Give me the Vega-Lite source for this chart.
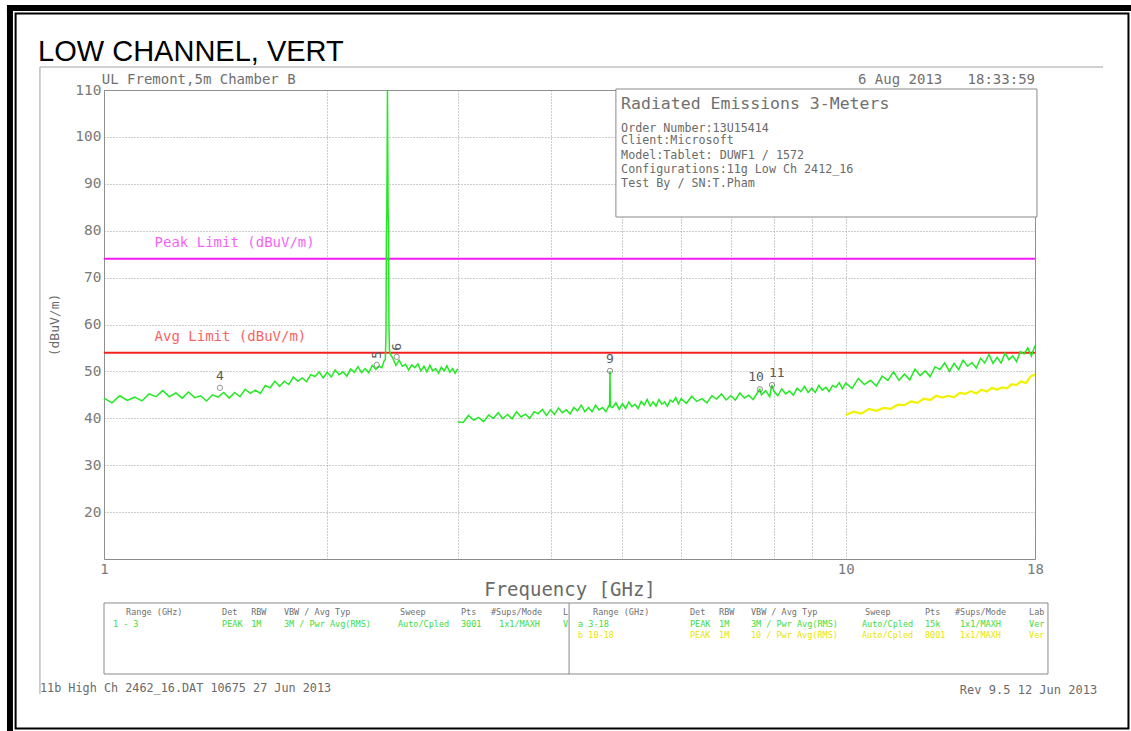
{
  "$schema": "https://vega.github.io/schema/vega-lite/v6.json",
  "width": 931,
  "height": 469,
  "autosize": {"type": "none"},
  "padding": {"left": 104, "top": 90, "right": 96, "bottom": 172},
  "background": "white",
  "config": {
    "view": {"stroke": "#8a8a8a", "strokeWidth": 1},
    "axis": {
      "labelFont": "DejaVu Sans Mono",
      "labelColor": "#7a7a7a",
      "titleFont": "DejaVu Sans Mono",
      "titleColor": "#6a6a6a",
      "titleFontWeight": "normal",
      "grid": true,
      "gridColor": "#9a9a9a",
      "gridDash": [1, 2],
      "gridWidth": 1,
      "ticks": false,
      "domain": false
    }
  },
  "datasets": {
    "green": [
      {"s": 1, "f": 1.000, "v": 44.3}, {"s": 1, "f": 1.025, "v": 43.3}, {"s": 1, "f": 1.050, "v": 44.8}, {"s": 1, "f": 1.075, "v": 43.8},
      {"s": 1, "f": 1.100, "v": 44.5}, {"s": 1, "f": 1.125, "v": 43.7}, {"s": 1, "f": 1.150, "v": 45.2}, {"s": 1, "f": 1.175, "v": 44.6},
      {"s": 1, "f": 1.200, "v": 45.9}, {"s": 1, "f": 1.225, "v": 44.6}, {"s": 1, "f": 1.250, "v": 45.4}, {"s": 1, "f": 1.275, "v": 44.3},
      {"s": 1, "f": 1.300, "v": 45.6}, {"s": 1, "f": 1.325, "v": 44.4}, {"s": 1, "f": 1.350, "v": 44.8}, {"s": 1, "f": 1.375, "v": 43.7},
      {"s": 1, "f": 1.400, "v": 45.0}, {"s": 1, "f": 1.425, "v": 44.5}, {"s": 1, "f": 1.450, "v": 45.5}, {"s": 1, "f": 1.475, "v": 44.3},
      {"s": 1, "f": 1.500, "v": 45.5}, {"s": 1, "f": 1.525, "v": 44.6}, {"s": 1, "f": 1.550, "v": 46.2}, {"s": 1, "f": 1.575, "v": 45.3},
      {"s": 1, "f": 1.600, "v": 46.0}, {"s": 1, "f": 1.625, "v": 45.3}, {"s": 1, "f": 1.650, "v": 47.0}, {"s": 1, "f": 1.675, "v": 46.5},
      {"s": 1, "f": 1.700, "v": 47.9}, {"s": 1, "f": 1.725, "v": 46.8}, {"s": 1, "f": 1.750, "v": 47.9}, {"s": 1, "f": 1.775, "v": 47.2},
      {"s": 1, "f": 1.800, "v": 48.8}, {"s": 1, "f": 1.825, "v": 47.9}, {"s": 1, "f": 1.850, "v": 48.6}, {"s": 1, "f": 1.875, "v": 47.8},
      {"s": 1, "f": 1.900, "v": 49.3}, {"s": 1, "f": 1.925, "v": 48.9}, {"s": 1, "f": 1.950, "v": 49.9}, {"s": 1, "f": 1.975, "v": 48.6},
      {"s": 1, "f": 2.000, "v": 49.8}, {"s": 1, "f": 2.025, "v": 48.8}, {"s": 1, "f": 2.050, "v": 50.3}, {"s": 1, "f": 2.075, "v": 49.3},
      {"s": 1, "f": 2.100, "v": 49.9}, {"s": 1, "f": 2.125, "v": 49.0}, {"s": 1, "f": 2.150, "v": 50.5}, {"s": 1, "f": 2.175, "v": 49.8},
      {"s": 1, "f": 2.200, "v": 51.0}, {"s": 1, "f": 2.225, "v": 49.7}, {"s": 1, "f": 2.250, "v": 50.6}, {"s": 1, "f": 2.275, "v": 49.7},
      {"s": 1, "f": 2.300, "v": 51.3}, {"s": 1, "f": 2.325, "v": 50.4}, {"s": 1, "f": 2.350, "v": 51.1}, {"s": 1, "f": 2.370, "v": 50.8},
      {"s": 1, "f": 2.385, "v": 52.2}, {"s": 1, "f": 2.395, "v": 52.5}, {"s": 1, "f": 2.400, "v": 58.0}, {"s": 1, "f": 2.403, "v": 79.0},
      {"s": 1, "f": 2.406, "v": 84.0}, {"s": 1, "f": 2.409, "v": 97.0}, {"s": 1, "f": 2.411, "v": 110.0}, {"s": 1, "f": 2.413, "v": 99.0},
      {"s": 1, "f": 2.416, "v": 84.0}, {"s": 1, "f": 2.419, "v": 80.0}, {"s": 1, "f": 2.422, "v": 60.0}, {"s": 1, "f": 2.426, "v": 54.5},
      {"s": 1, "f": 2.435, "v": 53.5}, {"s": 1, "f": 2.450, "v": 52.9}, {"s": 1, "f": 2.475, "v": 51.3}, {"s": 1, "f": 2.500, "v": 52.4},
      {"s": 1, "f": 2.525, "v": 51.1}, {"s": 1, "f": 2.550, "v": 51.5}, {"s": 1, "f": 2.575, "v": 50.3}, {"s": 1, "f": 2.600, "v": 51.4},
      {"s": 1, "f": 2.625, "v": 50.8}, {"s": 1, "f": 2.650, "v": 51.6}, {"s": 1, "f": 2.675, "v": 50.1}, {"s": 1, "f": 2.700, "v": 51.1},
      {"s": 1, "f": 2.725, "v": 49.9}, {"s": 1, "f": 2.750, "v": 51.3}, {"s": 1, "f": 2.775, "v": 50.1}, {"s": 1, "f": 2.800, "v": 50.6},
      {"s": 1, "f": 2.825, "v": 49.6}, {"s": 1, "f": 2.850, "v": 50.9}, {"s": 1, "f": 2.875, "v": 50.1}, {"s": 1, "f": 2.900, "v": 51.2},
      {"s": 1, "f": 2.925, "v": 49.8}, {"s": 1, "f": 2.950, "v": 50.6}, {"s": 1, "f": 2.975, "v": 49.6}, {"s": 1, "f": 3.000, "v": 50.6},
      {"s": 2, "f": 3.00, "v": 39.2}, {"s": 2, "f": 3.05, "v": 39.1}, {"s": 2, "f": 3.10, "v": 40.6}, {"s": 2, "f": 3.15, "v": 39.6},
      {"s": 2, "f": 3.20, "v": 40.2}, {"s": 2, "f": 3.25, "v": 39.3}, {"s": 2, "f": 3.30, "v": 40.7}, {"s": 2, "f": 3.35, "v": 40.0},
      {"s": 2, "f": 3.40, "v": 41.2}, {"s": 2, "f": 3.45, "v": 39.9}, {"s": 2, "f": 3.50, "v": 40.8}, {"s": 2, "f": 3.55, "v": 39.9},
      {"s": 2, "f": 3.60, "v": 41.4}, {"s": 2, "f": 3.65, "v": 40.3}, {"s": 2, "f": 3.70, "v": 40.9}, {"s": 2, "f": 3.75, "v": 40.0},
      {"s": 2, "f": 3.80, "v": 41.4}, {"s": 2, "f": 3.85, "v": 41.0}, {"s": 2, "f": 3.90, "v": 41.9}, {"s": 2, "f": 3.95, "v": 40.6},
      {"s": 2, "f": 4.00, "v": 41.8}, {"s": 2, "f": 4.05, "v": 40.8}, {"s": 2, "f": 4.10, "v": 42.2}, {"s": 2, "f": 4.15, "v": 41.2},
      {"s": 2, "f": 4.20, "v": 41.8}, {"s": 2, "f": 4.25, "v": 40.9}, {"s": 2, "f": 4.30, "v": 42.3}, {"s": 2, "f": 4.35, "v": 41.6},
      {"s": 2, "f": 4.40, "v": 42.8}, {"s": 2, "f": 4.45, "v": 41.4}, {"s": 2, "f": 4.50, "v": 42.3}, {"s": 2, "f": 4.55, "v": 41.4},
      {"s": 2, "f": 4.60, "v": 42.8}, {"s": 2, "f": 4.65, "v": 41.8}, {"s": 2, "f": 4.70, "v": 42.3}, {"s": 2, "f": 4.75, "v": 41.4},
      {"s": 2, "f": 4.80, "v": 42.8}, {"s": 2, "f": 4.805, "v": 43.0}, {"s": 2, "f": 4.811, "v": 50.1}, {"s": 2, "f": 4.817, "v": 42.5},
      {"s": 2, "f": 4.85, "v": 42.3}, {"s": 2, "f": 4.90, "v": 43.3}, {"s": 2, "f": 4.95, "v": 41.9}, {"s": 2, "f": 5.00, "v": 43.1},
      {"s": 2, "f": 5.05, "v": 42.1}, {"s": 2, "f": 5.10, "v": 43.5}, {"s": 2, "f": 5.15, "v": 42.5}, {"s": 2, "f": 5.20, "v": 43.0},
      {"s": 2, "f": 5.25, "v": 42.1}, {"s": 2, "f": 5.30, "v": 43.6}, {"s": 2, "f": 5.35, "v": 42.8}, {"s": 2, "f": 5.40, "v": 44.0},
      {"s": 2, "f": 5.45, "v": 42.6}, {"s": 2, "f": 5.50, "v": 43.5}, {"s": 2, "f": 5.55, "v": 42.6}, {"s": 2, "f": 5.60, "v": 44.0},
      {"s": 2, "f": 5.65, "v": 43.0}, {"s": 2, "f": 5.70, "v": 43.5}, {"s": 2, "f": 5.75, "v": 42.6}, {"s": 2, "f": 5.80, "v": 43.9},
      {"s": 2, "f": 5.85, "v": 43.5}, {"s": 2, "f": 5.90, "v": 44.4}, {"s": 2, "f": 5.95, "v": 43.1}, {"s": 2, "f": 6.00, "v": 44.2},
      {"s": 2, "f": 6.1, "v": 43.2}, {"s": 2, "f": 6.2, "v": 44.7}, {"s": 2, "f": 6.3, "v": 43.6}, {"s": 2, "f": 6.4, "v": 44.2},
      {"s": 2, "f": 6.5, "v": 43.3}, {"s": 2, "f": 6.6, "v": 44.8}, {"s": 2, "f": 6.7, "v": 44.1}, {"s": 2, "f": 6.8, "v": 45.2},
      {"s": 2, "f": 6.9, "v": 43.9}, {"s": 2, "f": 7.0, "v": 44.8}, {"s": 2, "f": 7.1, "v": 43.9}, {"s": 2, "f": 7.2, "v": 45.4},
      {"s": 2, "f": 7.3, "v": 44.3}, {"s": 2, "f": 7.4, "v": 44.9}, {"s": 2, "f": 7.5, "v": 44.0}, {"s": 2, "f": 7.6, "v": 45.4},
      {"s": 2, "f": 7.66, "v": 46.2}, {"s": 2, "f": 7.7, "v": 45.0}, {"s": 2, "f": 7.8, "v": 45.9}, {"s": 2, "f": 7.9, "v": 44.6},
      {"s": 2, "f": 7.95, "v": 47.1}, {"s": 2, "f": 8.0, "v": 45.8}, {"s": 2, "f": 8.1, "v": 44.8}, {"s": 2, "f": 8.2, "v": 46.3},
      {"s": 2, "f": 8.3, "v": 45.2}, {"s": 2, "f": 8.4, "v": 45.8}, {"s": 2, "f": 8.5, "v": 44.9}, {"s": 2, "f": 8.6, "v": 46.4},
      {"s": 2, "f": 8.7, "v": 45.7}, {"s": 2, "f": 8.8, "v": 46.8}, {"s": 2, "f": 8.9, "v": 45.5}, {"s": 2, "f": 9.0, "v": 46.4},
      {"s": 2, "f": 9.1, "v": 45.5}, {"s": 2, "f": 9.2, "v": 47.0}, {"s": 2, "f": 9.3, "v": 46.0}, {"s": 2, "f": 9.4, "v": 46.6},
      {"s": 2, "f": 9.5, "v": 45.7}, {"s": 2, "f": 9.6, "v": 47.0}, {"s": 2, "f": 9.7, "v": 46.6}, {"s": 2, "f": 9.8, "v": 47.6},
      {"s": 2, "f": 9.9, "v": 46.3}, {"s": 2, "f": 10.0, "v": 47.5}, {"s": 2, "f": 10.2, "v": 46.4}, {"s": 2, "f": 10.4, "v": 48.5},
      {"s": 2, "f": 10.6, "v": 47.2}, {"s": 2, "f": 10.8, "v": 48.1}, {"s": 2, "f": 11.0, "v": 46.9}, {"s": 2, "f": 11.2, "v": 49.0},
      {"s": 2, "f": 11.4, "v": 48.1}, {"s": 2, "f": 11.6, "v": 49.9}, {"s": 2, "f": 11.8, "v": 48.1}, {"s": 2, "f": 12.0, "v": 49.4},
      {"s": 2, "f": 12.2, "v": 48.2}, {"s": 2, "f": 12.4, "v": 50.5}, {"s": 2, "f": 12.6, "v": 49.1}, {"s": 2, "f": 12.8, "v": 50.1},
      {"s": 2, "f": 13.0, "v": 48.9}, {"s": 2, "f": 13.2, "v": 51.0}, {"s": 2, "f": 13.4, "v": 50.4}, {"s": 2, "f": 13.6, "v": 51.8},
      {"s": 2, "f": 13.8, "v": 50.0}, {"s": 2, "f": 14.0, "v": 51.7}, {"s": 2, "f": 14.2, "v": 50.4}, {"s": 2, "f": 14.4, "v": 52.4},
      {"s": 2, "f": 14.6, "v": 51.1}, {"s": 2, "f": 14.8, "v": 51.9}, {"s": 2, "f": 15.0, "v": 50.7}, {"s": 2, "f": 15.2, "v": 52.8},
      {"s": 2, "f": 15.4, "v": 51.8}, {"s": 2, "f": 15.6, "v": 53.6}, {"s": 2, "f": 15.8, "v": 51.7}, {"s": 2, "f": 16.0, "v": 53.0},
      {"s": 2, "f": 16.2, "v": 51.8}, {"s": 2, "f": 16.4, "v": 53.9}, {"s": 2, "f": 16.6, "v": 52.5}, {"s": 2, "f": 16.8, "v": 53.3},
      {"s": 2, "f": 17.0, "v": 52.1}, {"s": 2, "f": 17.2, "v": 54.2}, {"s": 2, "f": 17.4, "v": 53.7}, {"s": 2, "f": 17.6, "v": 55.0},
      {"s": 2, "f": 17.8, "v": 53.3}, {"s": 2, "f": 18.0, "v": 55.5}
    ],
    "yellow": [
      {"f": 10.00, "v": 40.7}, {"f": 10.25, "v": 41.4}, {"f": 10.50, "v": 41.0}, {"f": 10.75, "v": 42.0},
      {"f": 11.00, "v": 41.6}, {"f": 11.25, "v": 42.2}, {"f": 11.50, "v": 42.0}, {"f": 11.75, "v": 42.9},
      {"f": 12.00, "v": 42.8}, {"f": 12.25, "v": 43.6}, {"f": 12.50, "v": 43.3}, {"f": 12.75, "v": 44.2},
      {"f": 13.00, "v": 43.9}, {"f": 13.25, "v": 44.8}, {"f": 13.50, "v": 44.4}, {"f": 13.75, "v": 44.8},
      {"f": 14.00, "v": 44.5}, {"f": 14.25, "v": 45.4}, {"f": 14.50, "v": 45.2}, {"f": 14.75, "v": 45.8},
      {"f": 15.00, "v": 45.3}, {"f": 15.25, "v": 46.1}, {"f": 15.50, "v": 45.7}, {"f": 15.75, "v": 46.5},
      {"f": 16.00, "v": 46.1}, {"f": 16.25, "v": 46.6}, {"f": 16.50, "v": 46.4}, {"f": 16.75, "v": 47.3},
      {"f": 17.00, "v": 47.1}, {"f": 17.25, "v": 47.9}, {"f": 17.50, "v": 47.5}, {"f": 17.75, "v": 48.9},
      {"f": 18.00, "v": 49.4}
    ],
    "limits": [
      {"limit": "Peak Limit (dBuV/m)", "level": 74},
      {"limit": "Avg Limit (dBuV/m)", "level": 54}
    ],
    "markers": [
      {"n": "4", "f": 1.433, "v": 46.5},
      {"n": "5", "f": 2.332, "v": 51.4},
      {"n": "6", "f": 2.481, "v": 53.1},
      {"n": "9", "f": 4.811, "v": 50.1},
      {"n": "10", "f": 7.663, "v": 46.2},
      {"n": "11", "f": 7.954, "v": 47.1}
    ],
    "caption": [{"f": 0.815, "v": 116.2, "t": "LOW CHANNEL, VERT"}],
    "topleft": [{"f": 0.993, "v": 112.1, "t": "UL Fremont,5m Chamber B"}],
    "topright": [{"f": 18.0, "v": 112.1, "t": "6 Aug 2013\u00a0\u00a0\u00a018:33:59"}],
    "boxtitle": [{"f": 4.98, "v": 107.0, "t": "Radiated Emissions 3-Meters"}],
    "boxlines": [
      {"f": 4.98, "v": 101.9, "t": "Order Number:13U15414"},
      {"f": 4.98, "v": 99.3, "t": "Client:Microsoft"},
      {"f": 4.98, "v": 96.1, "t": "Model:Tablet: DUWF1 / 1572"},
      {"f": 4.98, "v": 93.2, "t": "Configurations:11g Low Ch 2412_16"},
      {"f": 4.98, "v": 90.2, "t": "Test By / SN:T.Pham"}
    ],
    "footleft": [{"f": 0.8197, "v": -17.5, "t": "11b High Ch 2462_16.DAT 10675 27 Jun 2013"}],
    "footright": [{"f": 21.83, "v": -17.9, "t": "Rev 9.5 12 Jun 2013"}],
    "tablehead": [
      {"f": 1.071, "v": -1.3, "t": "Range (GHz)"}, {"f": 1.443, "v": -1.3, "t": "Det"}, {"f": 1.579, "v": -1.3, "t": "RBW"},
      {"f": 1.748, "v": -1.3, "t": "VBW / Avg Typ"}, {"f": 2.507, "v": -1.3, "t": "Sweep"}, {"f": 3.029, "v": -1.3, "t": "Pts"},
      {"f": 3.325, "v": -1.3, "t": "#Sups/Mode"}, {"f": 4.157, "v": -1.3, "t": "L"},
      {"f": 4.564, "v": -1.3, "t": "Range (GHz)"}, {"f": 6.167, "v": -1.3, "t": "Det"}, {"f": 6.750, "v": -1.3, "t": "RBW"},
      {"f": 7.451, "v": -1.3, "t": "VBW / Avg Typ"}, {"f": 10.62, "v": -1.3, "t": "Sweep"}, {"f": 12.79, "v": -1.3, "t": "Pts"},
      {"f": 14.04, "v": -1.3, "t": "#Sups/Mode"}, {"f": 17.67, "v": -1.3, "t": "Lab"}
    ],
    "tablegreen": [
      {"f": 1.028, "v": -3.9, "t": "1 - 3"}, {"f": 1.443, "v": -3.9, "t": "PEAK"}, {"f": 1.579, "v": -3.9, "t": "1M"},
      {"f": 1.748, "v": -3.9, "t": "3M / Pwr Avg(RMS)"}, {"f": 2.491, "v": -3.9, "t": "Auto/Cpled"}, {"f": 3.029, "v": -3.9, "t": "3001"},
      {"f": 3.409, "v": -3.9, "t": "1x1/MAXH"}, {"f": 4.157, "v": -3.9, "t": "V"},
      {"f": 4.357, "v": -3.9, "t": "a 3-18"}, {"f": 6.167, "v": -3.9, "t": "PEAK"}, {"f": 6.750, "v": -3.9, "t": "1M"},
      {"f": 7.451, "v": -3.9, "t": "3M / Pwr Avg(RMS)"}, {"f": 10.52, "v": -3.9, "t": "Auto/Cpled"}, {"f": 12.79, "v": -3.9, "t": "15k"},
      {"f": 14.26, "v": -3.9, "t": "1x1/MAXH"}, {"f": 17.67, "v": -3.9, "t": "Ver"}
    ],
    "tableyellow": [
      {"f": 4.357, "v": -6.2, "t": "b 10-18"}, {"f": 6.167, "v": -6.2, "t": "PEAK"}, {"f": 6.750, "v": -6.2, "t": "1M"},
      {"f": 7.451, "v": -6.2, "t": "10 / Pwr Avg(RMS)"}, {"f": 10.52, "v": -6.2, "t": "Auto/Cpled"}, {"f": 12.79, "v": -6.2, "t": "8001"},
      {"f": 14.26, "v": -6.2, "t": "1x1/MAXH"}, {"f": 17.67, "v": -6.2, "t": "Ver"}
    ],
    "one": [{}]
  },
  "layer": [
    {
      "data": {"name": "one"},
      "mark": {"type": "rect", "color": "black"},
      "encoding": {
        "x": {"datum": 0.7399, "type": "quantitative", "scale": {"type": "log", "domain": [1, 18], "nice": false},
          "axis": {"values": [1, 2, 3, 4, 5, 6, 7, 8, 9, 10, 18],
            "labelExpr": "indexof([1, 10, 18], datum.value) >= 0 ? datum.label : ''",
            "grid": true, "labelFontSize": 14, "labelPadding": 3, "labelFlush": false, "labelOverlap": false,
            "title": "Frequency [GHz]", "titleFontSize": 19, "titlePadding": 4}},
        "x2": {"datum": 25},
        "y": {"datum": 128.12, "type": "quantitative", "scale": {"domain": [10, 110], "nice": false, "zero": false},
          "axis": {"values": [20, 30, 40, 50, 60, 70, 80, 90, 100, 110],
            "grid": true, "labelFontSize": 14.5, "labelPadding": 3,
            "title": "(dBuV/m)", "titleFontSize": 13, "titlePadding": 13}},
        "y2": {"datum": 126.84}
      }
    },
    {
      "data": {"name": "one"},
      "mark": {"type": "rect", "color": "black"},
      "encoding": {
        "x": {"datum": 0.7399, "type": "quantitative"},
        "x2": {"datum": 0.7538},
        "y": {"datum": 128.12, "type": "quantitative"},
        "y2": {"datum": -30}
      }
    },
    {
      "data": {"name": "one"},
      "mark": {"type": "rect", "filled": false, "stroke": "black", "strokeWidth": 2},
      "encoding": {
        "x": {"datum": 0.76, "type": "quantitative"},
        "x2": {"datum": 24.06},
        "y": {"datum": 126.31, "type": "quantitative"},
        "y2": {"datum": -26.14}
      }
    },
    {
      "data": {"name": "one"},
      "mark": {"type": "rule", "color": "#a0a0a0", "strokeWidth": 1},
      "encoding": {
        "x": {"datum": 0.8197, "type": "quantitative"},
        "x2": {"datum": 22.23},
        "y": {"datum": 114.9, "type": "quantitative"}
      }
    },
    {
      "data": {"name": "one"},
      "mark": {"type": "rule", "color": "#a0a0a0", "strokeWidth": 1},
      "encoding": {
        "x": {"datum": 0.8197, "type": "quantitative"},
        "y": {"datum": 114.9, "type": "quantitative"},
        "y2": {"datum": -18.78}
      }
    },
    {
      "data": {"name": "one"},
      "mark": {"type": "rect", "fill": "white", "stroke": "#8a8a8a", "strokeWidth": 1},
      "encoding": {
        "x": {"datum": 4.90, "type": "quantitative"},
        "x2": {"datum": 18.11},
        "y": {"datum": 110.21, "type": "quantitative"},
        "y2": {"datum": 82.92}
      }
    },
    {
      "data": {"name": "limits"},
      "mark": {"type": "rule", "strokeWidth": 2},
      "encoding": {
        "y": {"field": "level", "type": "quantitative"},
        "color": {"field": "limit", "type": "nominal", "legend": null,
          "scale": {"domain": ["Peak Limit (dBuV/m)", "Avg Limit (dBuV/m)"], "range": ["#f21cf2", "#f42020"]}}
      }
    },
    {
      "data": {"name": "limits"},
      "mark": {"type": "text", "align": "left", "baseline": "middle", "dy": -16, "font": "DejaVu Sans Mono", "fontSize": 14, "opacity": 0.7},
      "encoding": {
        "x": {"datum": 1.17, "type": "quantitative"},
        "y": {"field": "level", "type": "quantitative"},
        "text": {"field": "limit"},
        "color": {"field": "limit", "type": "nominal", "legend": null}
      }
    },
    {
      "data": {"name": "green"},
      "mark": {"type": "line", "color": "#22ea22", "strokeWidth": 1.5},
      "encoding": {
        "x": {"field": "f", "type": "quantitative"},
        "y": {"field": "v", "type": "quantitative"},
        "detail": {"field": "s", "type": "nominal"}
      }
    },
    {
      "data": {"name": "yellow"},
      "mark": {"type": "line", "color": "#f2f200", "strokeWidth": 2.2},
      "encoding": {
        "x": {"field": "f", "type": "quantitative"},
        "y": {"field": "v", "type": "quantitative"}
      }
    },
    {
      "data": {"name": "markers"},
      "mark": {"type": "point", "shape": "circle", "size": 28, "filled": false, "stroke": "#666", "strokeWidth": 1},
      "encoding": {
        "x": {"field": "f", "type": "quantitative"},
        "y": {"field": "v", "type": "quantitative"}
      }
    },
    {
      "data": {"name": "markers"},
      "transform": [{"filter": "indexof(['4', '9'], datum.n) >= 0"}],
      "mark": {"type": "text", "align": "center", "baseline": "bottom", "dy": -5, "font": "DejaVu Sans Mono", "fontSize": 13, "color": "#5a5a5a"},
      "encoding": {
        "x": {"field": "f", "type": "quantitative"},
        "y": {"field": "v", "type": "quantitative"},
        "text": {"field": "n"}
      }
    },
    {
      "data": {"name": "markers"},
      "transform": [{"filter": "datum.n == '10'"}],
      "mark": {"type": "text", "align": "right", "baseline": "bottom", "dx": 4, "dy": -5, "font": "DejaVu Sans Mono", "fontSize": 13, "color": "#5a5a5a"},
      "encoding": {
        "x": {"field": "f", "type": "quantitative"},
        "y": {"field": "v", "type": "quantitative"},
        "text": {"field": "n"}
      }
    },
    {
      "data": {"name": "markers"},
      "transform": [{"filter": "datum.n == '11'"}],
      "mark": {"type": "text", "align": "left", "baseline": "bottom", "dx": -3, "dy": -5, "font": "DejaVu Sans Mono", "fontSize": 13, "color": "#5a5a5a"},
      "encoding": {
        "x": {"field": "f", "type": "quantitative"},
        "y": {"field": "v", "type": "quantitative"},
        "text": {"field": "n"}
      }
    },
    {
      "data": {"name": "markers"},
      "transform": [{"filter": "indexof(['5', '6'], datum.n) >= 0"}],
      "mark": {"type": "text", "angle": 270, "align": "left", "baseline": "middle", "dx": 6, "font": "DejaVu Sans Mono", "fontSize": 13, "color": "#5a5a5a"},
      "encoding": {
        "x": {"field": "f", "type": "quantitative"},
        "y": {"field": "v", "type": "quantitative"},
        "text": {"field": "n"}
      }
    },
    {
      "data": {"name": "caption"},
      "mark": {"type": "text", "align": "left", "baseline": "alphabetic", "font": "Liberation Sans", "fontSize": 29, "color": "black"},
      "encoding": {"x": {"field": "f", "type": "quantitative"}, "y": {"field": "v", "type": "quantitative"}, "text": {"field": "t"}}
    },
    {
      "data": {"name": "topleft"},
      "mark": {"type": "text", "align": "left", "baseline": "middle", "font": "DejaVu Sans Mono", "fontSize": 14, "color": "#707070"},
      "encoding": {"x": {"field": "f", "type": "quantitative"}, "y": {"field": "v", "type": "quantitative"}, "text": {"field": "t"}}
    },
    {
      "data": {"name": "topright"},
      "mark": {"type": "text", "align": "right", "baseline": "middle", "font": "DejaVu Sans Mono", "fontSize": 14, "color": "#707070"},
      "encoding": {"x": {"field": "f", "type": "quantitative"}, "y": {"field": "v", "type": "quantitative"}, "text": {"field": "t"}}
    },
    {
      "data": {"name": "boxtitle"},
      "mark": {"type": "text", "align": "left", "baseline": "middle", "font": "DejaVu Sans Mono", "fontSize": 16.5, "color": "#707070"},
      "encoding": {"x": {"field": "f", "type": "quantitative"}, "y": {"field": "v", "type": "quantitative"}, "text": {"field": "t"}}
    },
    {
      "data": {"name": "boxlines"},
      "mark": {"type": "text", "align": "left", "baseline": "middle", "font": "DejaVu Sans Mono", "fontSize": 11.7, "color": "#6a6a6a"},
      "encoding": {"x": {"field": "f", "type": "quantitative"}, "y": {"field": "v", "type": "quantitative"}, "text": {"field": "t"}}
    },
    {
      "data": {"name": "footleft"},
      "mark": {"type": "text", "align": "left", "baseline": "middle", "font": "DejaVu Sans Mono", "fontSize": 11.8, "color": "#6a6a6a"},
      "encoding": {"x": {"field": "f", "type": "quantitative"}, "y": {"field": "v", "type": "quantitative"}, "text": {"field": "t"}}
    },
    {
      "data": {"name": "footright"},
      "mark": {"type": "text", "align": "right", "baseline": "middle", "font": "DejaVu Sans Mono", "fontSize": 12, "color": "#6a6a6a"},
      "encoding": {"x": {"field": "f", "type": "quantitative"}, "y": {"field": "v", "type": "quantitative"}, "text": {"field": "t"}}
    },
    {
      "data": {"name": "one"},
      "mark": {"type": "rect", "filled": false, "stroke": "#8a8a8a", "strokeWidth": 1},
      "encoding": {
        "x": {"datum": 1, "type": "quantitative"},
        "x2": {"datum": 18.74},
        "y": {"datum": 0.62, "type": "quantitative"},
        "y2": {"datum": -14.52}
      }
    },
    {
      "data": {"name": "one"},
      "mark": {"type": "rule", "color": "#8a8a8a", "strokeWidth": 1},
      "encoding": {
        "x": {"datum": 4.237, "type": "quantitative"},
        "y": {"datum": 0.62, "type": "quantitative"},
        "y2": {"datum": -14.52}
      }
    },
    {
      "data": {"name": "tablehead"},
      "mark": {"type": "text", "align": "left", "baseline": "middle", "font": "DejaVu Sans Mono", "fontSize": 8.5, "color": "#707070"},
      "encoding": {"x": {"field": "f", "type": "quantitative"}, "y": {"field": "v", "type": "quantitative"}, "text": {"field": "t"}}
    },
    {
      "data": {"name": "tablegreen"},
      "mark": {"type": "text", "align": "left", "baseline": "middle", "font": "DejaVu Sans Mono", "fontSize": 8.5, "color": "#3ddc3d"},
      "encoding": {"x": {"field": "f", "type": "quantitative"}, "y": {"field": "v", "type": "quantitative"}, "text": {"field": "t"}}
    },
    {
      "data": {"name": "tableyellow"},
      "mark": {"type": "text", "align": "left", "baseline": "middle", "font": "DejaVu Sans Mono", "fontSize": 8.5, "color": "#e6e600"},
      "encoding": {"x": {"field": "f", "type": "quantitative"}, "y": {"field": "v", "type": "quantitative"}, "text": {"field": "t"}}
    }
  ]
}
